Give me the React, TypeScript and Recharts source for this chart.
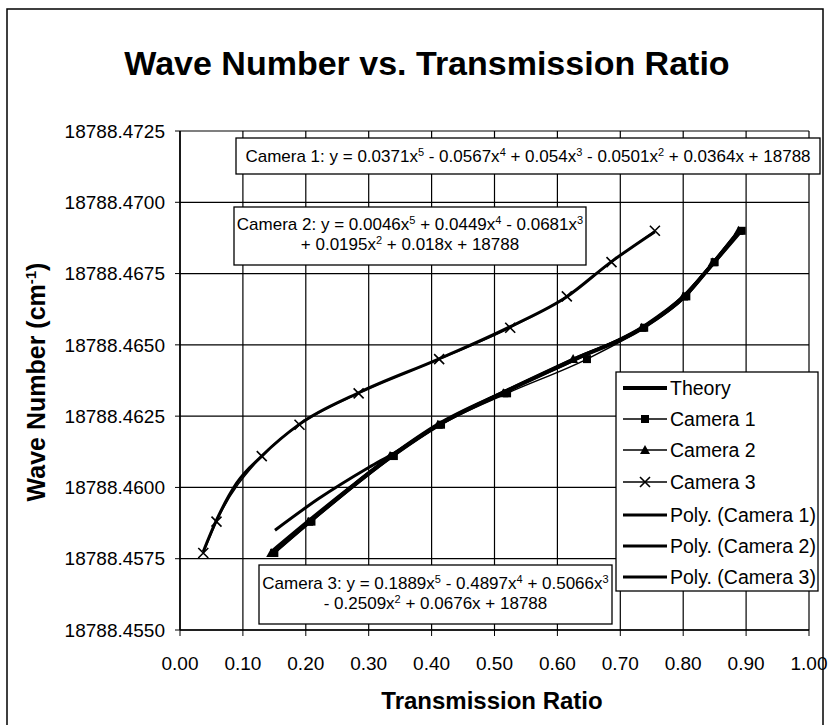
import React from 'react';
import { LineChart, Line, XAxis, YAxis, CartesianGrid } from 'recharts';

const FONT = '"Liberation Sans", Arial, sans-serif';

// wave numbers shared by the three cameras and the theory curve (cm^-1)
const waveNumbers = [
  18788.4577, 18788.4588, 18788.4611, 18788.4622, 18788.4633,
  18788.4645, 18788.4656, 18788.4667, 18788.4679, 18788.469,
];
const theoryRatio = [0.148, 0.206, 0.337, 0.412, 0.512, 0.628, 0.736, 0.802, 0.849, 0.89];
const camera1Ratio = [0.15, 0.209, 0.34, 0.415, 0.52, 0.647, 0.738, 0.805, 0.85, 0.893];
const camera2Ratio = [0.145, 0.204, 0.334, 0.41, 0.514, 0.625, 0.734, 0.8, 0.847, 0.888];
const camera3Ratio = [0.037, 0.058, 0.13, 0.19, 0.284, 0.412, 0.525, 0.615, 0.686, 0.755];

// trend lines
const poly1Ratio = [0.151, 0.22, 0.3, 0.34, 0.42, 0.52, 0.63, 0.74, 0.8, 0.85, 0.893];
const poly1Wave = [
  18788.4585, 18788.4596, 18788.4607, 18788.4612, 18788.4623, 18788.4634,
  18788.4645, 18788.4657, 18788.4667, 18788.4679, 18788.469,
];
const poly2Ratio = [0.145, 0.205, 0.27, 0.335, 0.41, 0.514, 0.625, 0.737, 0.8, 0.848, 0.888];
const poly2Wave = [
  18788.45775, 18788.45885, 18788.46, 18788.4611, 18788.46222, 18788.46335,
  18788.4645, 18788.46562, 18788.4667, 18788.4679, 18788.469,
];
const poly3Ratio = [0.037, 0.058, 0.09, 0.13, 0.19, 0.284, 0.412, 0.525, 0.615, 0.686, 0.755];
const poly3Wave = [
  18788.45775, 18788.45885, 18788.46015, 18788.4611, 18788.46222, 18788.46332,
  18788.46451, 18788.46564, 18788.46669, 18788.46792, 18788.46897,
];

const xTicks = [0, 0.1, 0.2, 0.3, 0.4, 0.5, 0.6, 0.7, 0.8, 0.9, 1];
const yTicks = [
  18788.455, 18788.4575, 18788.46, 18788.4625, 18788.465, 18788.4675, 18788.47, 18788.4725,
];

const equation1 = ['Camera 1: y = 0.0371x^5 - 0.0567x^4 + 0.054x^3 - 0.0501x^2 + 0.0364x + 18788'];
const equation2 = ['Camera 2: y = 0.0046x^5 + 0.0449x^4 - 0.0681x^3', '+ 0.0195x^2 + 0.018x + 18788'];
const equation3 = ['Camera 3: y = 0.1889x^5 - 0.4897x^4 + 0.5066x^3', '- 0.2509x^2 + 0.0676x + 18788'];

const legendNames = [
  'Theory', 'Camera 1', 'Camera 2', 'Camera 3',
  'Poly. (Camera 1)', 'Poly. (Camera 2)', 'Poly. (Camera 3)',
];

const zip = (xs: number[], ys: number[]) => xs.map((x, i) => ({ x, y: ys[i] }));

const theoryData = zip(theoryRatio, waveNumbers);
const camera1Data = zip(camera1Ratio, waveNumbers);
const camera2Data = zip(camera2Ratio, waveNumbers);
const camera3Data = zip(camera3Ratio, waveNumbers);
const poly1Data = zip(poly1Ratio, poly1Wave);
const poly2Data = zip(poly2Ratio, poly2Wave);
const poly3Data = zip(poly3Ratio, poly3Wave);

const SquareDot = (p: any) =>
  p.cx == null ? null : (
    <rect key={`sq-${p.index}`} x={p.cx - 4} y={p.cy - 4} width={8} height={8} fill="#000" />
  );

const TriangleDot = (p: any) =>
  p.cx == null ? null : (
    <path
      key={`tr-${p.index}`}
      d={`M${p.cx},${p.cy - 5} L${p.cx + 5},${p.cy + 4} L${p.cx - 5},${p.cy + 4} Z`}
      fill="#000"
    />
  );

const CrossDot = (p: any) =>
  p.cx == null ? null : (
    <path
      key={`cr-${p.index}`}
      d={`M${p.cx - 5},${p.cy - 5} L${p.cx + 5},${p.cy + 5} M${p.cx - 5},${p.cy + 5} L${p.cx + 5},${p.cy - 5}`}
      stroke="#000"
      strokeWidth={1.6}
      fill="none"
    />
  );

// text with ^n superscripts
const EqLine = ({ text, x, y }: { text: string; x: number; y: number }) => {
  const parts = text.split(/\^(\d)/);
  return (
    <text x={x} y={y} textAnchor="middle" fontSize={17} fontFamily={FONT} fill="#000">
      {parts.map((s, i) =>
        i % 2 === 1 ? (
          <tspan key={i} dy={-6} fontSize={11}>{s}</tspan>
        ) : (
          <tspan key={i} dy={i === 0 ? 0 : 6}>{s}</tspan>
        )
      )}
    </text>
  );
};

const EqBox = ({ lines, x, y, w, h, baseline }: any) => (
  <g>
    <rect x={x} y={y} width={w} height={h} fill="#fff" stroke="#000" strokeWidth={1.3} />
    {lines.map((t: string, i: number) => (
      <EqLine key={i} text={t} x={x + w / 2} y={baseline + i * 20} />
    ))}
  </g>
);

const LegendIcon = ({ i, cy }: { i: number; cy: number }) => {
  const x1 = 623;
  const x2 = 667;
  const cx = 645;
  const thin = i >= 1 && i <= 3;
  return (
    <g>
      <line x1={x1} x2={x2} y1={cy} y2={cy} stroke="#000" strokeWidth={thin ? 1.4 : i === 0 ? 4 : 3.2} />
      {i === 1 && <rect x={cx - 4} y={cy - 4} width={8} height={8} fill="#000" />}
      {i === 2 && <path d={`M${cx},${cy - 5} L${cx + 5},${cy + 4} L${cx - 5},${cy + 4} Z`} fill="#000" />}
      {i === 3 && (
        <path
          d={`M${cx - 5},${cy - 5} L${cx + 5},${cy + 5} M${cx - 5},${cy + 5} L${cx + 5},${cy - 5}`}
          stroke="#000"
          strokeWidth={1.6}
        />
      )}
    </g>
  );
};

export default function App() {
  const legendRows = [388, 419, 450, 482, 515, 546, 577];
  return (
    <div style={{ position: 'absolute', left: 0, top: 0, width: 830, height: 725, background: '#fff' }}>
      <LineChart
        width={830}
        height={725}
        margin={{ top: 131, right: 21, left: 0, bottom: 0 }}
      >
        <CartesianGrid stroke="#000" strokeWidth={1.2} />
        <XAxis
          type="number"
          dataKey="x"
          domain={[0, 1]}
          ticks={xTicks}
          height={95}
          interval={0}
          tickFormatter={(v: number) => v.toFixed(2)}
          tick={{ fill: '#000', fontSize: 19, fontFamily: FONT }}
          tickSize={6}
          tickMargin={21}
          axisLine={{ stroke: '#000', strokeWidth: 1.5 }}
          tickLine={{ stroke: '#000' }}
          allowDataOverflow
        />
        <YAxis
          type="number"
          dataKey="y"
          domain={[18788.455, 18788.4725]}
          ticks={yTicks}
          width={180}
          interval={0}
          tickFormatter={(v: number) => v.toFixed(4)}
          tick={{ fill: '#000', fontSize: 19, fontFamily: FONT }}
          tickSize={5}
          tickMargin={10}
          axisLine={{ stroke: '#000', strokeWidth: 1.5 }}
          tickLine={{ stroke: '#000' }}
          allowDataOverflow
        />
        <Line data={theoryData} dataKey="y" type="monotone" stroke="#000" strokeWidth={4} dot={false} isAnimationActive={false} />
        <Line data={camera1Data} dataKey="y" type="monotone" stroke="#000" strokeWidth={1.5} dot={SquareDot} isAnimationActive={false} />
        <Line data={camera2Data} dataKey="y" type="monotone" stroke="#000" strokeWidth={1.5} dot={TriangleDot} isAnimationActive={false} />
        <Line data={camera3Data} dataKey="y" type="monotone" stroke="#000" strokeWidth={1.5} dot={CrossDot} isAnimationActive={false} />
        <Line data={poly1Data} dataKey="y" type="monotone" stroke="#000" strokeWidth={3} dot={false} isAnimationActive={false} />
        <Line data={poly2Data} dataKey="y" type="monotone" stroke="#000" strokeWidth={3} dot={false} isAnimationActive={false} />
        <Line data={poly3Data} dataKey="y" type="monotone" stroke="#000" strokeWidth={3} dot={false} isAnimationActive={false} />
      </LineChart>

      <svg
        width={830}
        height={725}
        style={{ position: 'absolute', left: 0, top: 0, pointerEvents: 'none' }}
      >
        <rect x={7} y={9} width={816} height={740} fill="none" stroke="#000" strokeWidth={1.5} />
        <text x={427} y={75} textAnchor="middle" fontSize={34} fontWeight="bold" fontFamily={FONT}>
          Wave Number vs. Transmission Ratio
        </text>
        <text x={492} y={709} textAnchor="middle" fontSize={24} fontWeight="bold" fontFamily={FONT}>
          Transmission Ratio
        </text>
        <text
          x={45}
          y={382}
          transform="rotate(-90 45 382)"
          textAnchor="middle"
          fontSize={25}
          fontWeight="bold"
          fontFamily={FONT}
        >
          Wave Number (cm<tspan dy={-9} fontSize={15}>-1</tspan>
          <tspan dy={9}>)</tspan>
        </text>

        <EqBox lines={equation1} x={236} y={138} w={584} h={36} baseline={162} />
        <EqBox lines={equation2} x={234} y={207} w={352} h={58} baseline={230} />
        <EqBox lines={equation3} x={259} y={565} w={353} h={59} baseline={589} />

        <rect x={616} y={372} width={202} height={219} fill="#fff" stroke="#000" strokeWidth={1.3} />
        {legendNames.map((name, i) => (
          <g key={name}>
            <LegendIcon i={i} cy={legendRows[i]} />
            <text x={670} y={legendRows[i] + 7} fontSize={19.5} fontFamily={FONT}>
              {name}
            </text>
          </g>
        ))}
      </svg>
    </div>
  );
}
